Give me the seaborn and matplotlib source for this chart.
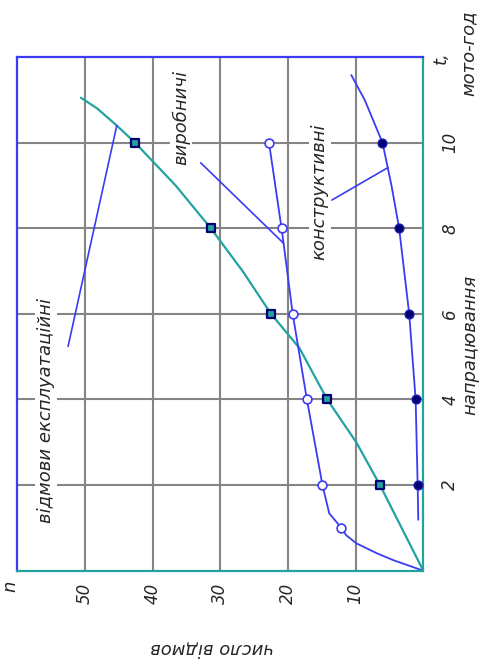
import pandas as pd
import seaborn as sns
import matplotlib.pyplot as plt

# Відмови машини залежно від напрацювання (графік повернутий на 90°)
t_marks = [2, 4, 6, 8, 10]
n_exploit = [6.4, 14.2, 22.5, 31.4, 42.6]
t_product_marks = [1, 2, 4, 6, 8, 10]
n_product = [12.1, 14.9, 17.2, 19.3, 20.95, 22.8]
n_design = [0.83, 1.13, 2.08, 3.57, 6.03]

# лінії кривих, зчитані з рисунку
t_exploit_curve = [0, 2, 3, 4, 5.2, 6, 7, 8, 9, 10, 10.4, 10.8, 11.05]
n_exploit_curve = [0, 6.4, 9.9, 14.2, 18.3, 22.5, 26.7, 31.4, 36.6, 42.6, 45.3, 48.2, 50.6]
t_product_curve = [0, 0.25, 0.41, 0.64, 0.83, 1.0, 1.34, 2, 4, 6, 7.65, 8, 10]
n_product_curve = [0, 4.5, 6.9, 9.9, 11.4, 12.1, 13.9, 14.9, 17.2, 19.3, 20.65, 20.95, 22.8]
t_design_curve = [1.19, 2, 4, 6, 8, 9, 10, 11.0, 11.58]
n_design_curve = [0.74, 0.83, 1.13, 2.08, 3.57, 4.7, 6.03, 8.66, 10.64]

n_ticks = [10, 20, 30, 40, 50]
t_ticks = [2, 4, 6, 8, 10]

BLUE = "#3b3bf5"
TEAL = "#22a39f"
NAVY = "#000070"
GRID = "#858585"

sns.set_style("white")
plt.rcParams["font.family"] = ["DejaVu Sans"]
plt.rcParams["font.style"] = "italic"

fig = plt.figure(figsize=(4.81, 6.66), dpi=100)
ax = fig.add_axes([0.036, 0.1431, 0.844, 0.7712])

# криві: вісь x - число відмов (n), вісь y - напрацювання (t)
sns.lineplot(x=n_exploit_curve, y=t_exploit_curve, sort=False, estimator=None,
             color=TEAL, lw=1.6, ax=ax)
sns.lineplot(x=n_product_curve, y=t_product_curve, sort=False, estimator=None,
             color=BLUE, lw=1.3, ax=ax)
sns.lineplot(x=n_design_curve, y=t_design_curve, sort=False, estimator=None,
             color=BLUE, lw=1.3, ax=ax)

sns.scatterplot(x=n_exploit, y=t_marks, marker="s", s=34, color=TEAL,
                edgecolor=NAVY, linewidth=1.6, zorder=5, ax=ax)
sns.scatterplot(x=n_product, y=t_product_marks, marker="o", s=40, color="white",
                edgecolor=BLUE, linewidth=1.2, zorder=5, ax=ax)
sns.scatterplot(x=n_design, y=t_marks, marker="o", s=40, color=NAVY,
                edgecolor="#1a1ab0", linewidth=1.0, zorder=5, ax=ax)

# виносні лінії до підписів
leaders = {
    "exploit": ([52.5, 45.3], [5.24, 10.4]),
    "product": ([32.9, 20.65], [9.53, 7.65]),
    "design": ([13.5, 5.2], [8.66, 9.42]),
}
for xs, ys in leaders.values():
    ax.plot(xs, ys, color=BLUE, lw=1.2)

label_kw = dict(rotation=90, ha="center", va="center", fontsize=13,
                bbox=dict(fc="white", ec="none", pad=1.5), zorder=4)
ax.text(55.8, 3.75, "відмови експлуатаційні", **label_kw)
ax.text(35.8, 10.58, "виробничі", **label_kw)
ax.text(15.3, 8.85, "конструктивні", **label_kw)

ax.set_xlim(60, 0)
ax.set_ylim(0, 12)
ax.set_xticks(n_ticks)
ax.set_yticks(t_ticks)
ax.yaxis.tick_right()
ax.grid(True, color=GRID, lw=1.5)
ax.tick_params(length=0, labelsize=12)
ax.tick_params(axis="x", pad=9)
ax.tick_params(axis="y", pad=13)
ax.set_xticklabels([str(v) for v in n_ticks], rotation=90, ha="center", va="top")
ax.set_yticklabels([str(v) for v in t_ticks], rotation=90, ha="left", va="center")

for side, col in [("left", BLUE), ("top", BLUE), ("right", TEAL), ("bottom", TEAL)]:
    ax.spines[side].set_visible(True)
    ax.spines[side].set_color(col)
    ax.spines[side].set_linewidth(1.6)

# підписи осей
ax.text(-2.63, 11.98, "t,", rotation=90, ha="center", va="center", fontsize=13, clip_on=False)
ax.text(-6.64, 12.09, "мото-год", rotation=90, ha="center", va="center", fontsize=13, clip_on=False)
ax.text(-6.9, 5.27, "напрацювання", rotation=90, ha="center", va="center", fontsize=13, clip_on=False)
ax.text(61.0, -0.36, "n", rotation=90, ha="center", va="center", fontsize=13, clip_on=False)
ax.text(31.2, -1.81, "число відмов", rotation=180, ha="center", va="center", fontsize=13, clip_on=False)

fig.savefig("out.png", dpi=100)
